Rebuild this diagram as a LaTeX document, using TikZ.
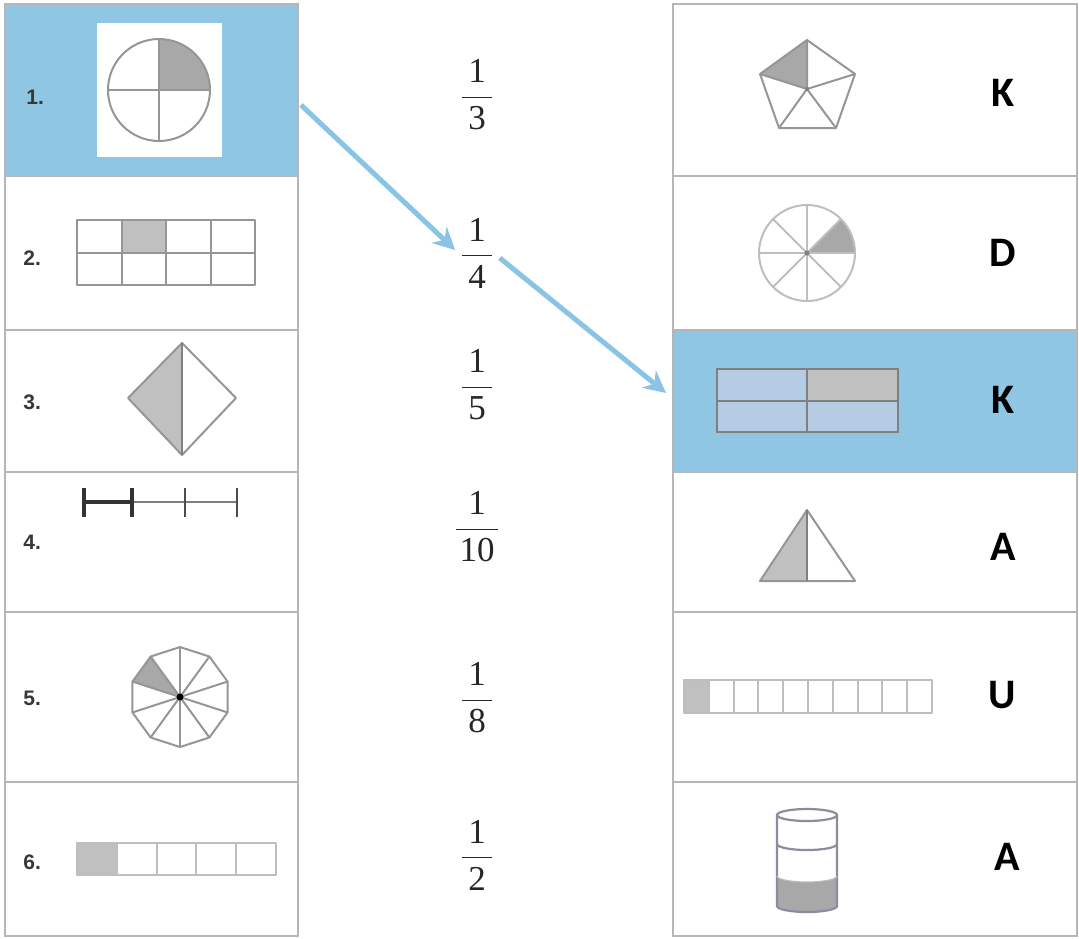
\documentclass[tikz,border=0pt]{standalone}
\usepackage{fontspec}
\newfontfamily\labfont{Liberation Sans}
\newfontfamily\letfont{Carlito}
\newfontfamily\fracfont{Liberation Serif}
\usetikzlibrary{arrows.meta,fit,calc}
\definecolor{hlblue}{RGB}{142,198,228}
\definecolor{arrowblue}{RGB}{137,196,230}
\definecolor{cellgray}{RGB}{182,182,182}
\definecolor{shpgray}{RGB}{150,150,150}
\definecolor{lightshp}{RGB}{190,190,190}
\definecolor{shadeA}{RGB}{168,168,168}
\definecolor{shadeB}{RGB}{192,192,192}
\definecolor{gridblue}{RGB}{181,204,229}
\definecolor{cylgray}{RGB}{140,140,160}
\definecolor{labgray}{RGB}{55,55,55}
\newcommand{\myfrac}[3]{$\displaystyle\frac{\makebox[#3]{\fracfont #1}}{\makebox[#3]{\fracfont #2}}$}
\begin{document}
\begin{tikzpicture}[x=0.5pt,y=-0.5pt,
  cell/.style={draw=cellgray,line width=1pt,inner sep=0pt},
  shp/.style={draw=shpgray,line width=1pt,line join=round},
  num/.style={font=\labfont\bfseries\fontsize{10.5}{12}\selectfont,text=labgray,anchor=west,inner sep=0pt},
  letter/.style={font=\letfont\bfseries\fontsize{21}{24}\selectfont,inner sep=0pt},
  fracnode/.style={font=\fontsize{17.5}{21}\selectfont,inner sep=0pt,text=black!85},
  link/.style={draw=arrowblue,line width=2.5pt,-{Stealth[length=11pt,width=11pt]}}]
\useasboundingbox (0,0) rectangle (1079,938);
\fill[white] (0,0) rectangle (1079,938);

% left column cells
\node[cell,fill=hlblue,fit={(5,4)(298,176)}] (L1) {};
\node[cell,fit={(5,176)(298,330)}] (L2) {};
\node[cell,fit={(5,330)(298,472)}] (L3) {};
\node[cell,fit={(5,472)(298,612)}] (L4) {};
\node[cell,fit={(5,612)(298,782)}] (L5) {};
\node[cell,fit={(5,782)(298,936)}] (L6) {};
% right column cells
\node[cell,fit={(673,4)(1077,176)}] (R1) {};
\node[cell,fit={(673,176)(1077,330)}] (R2) {};
\node[cell,fill=hlblue,fit={(673,330)(1077,472)}] (R3) {};
\node[cell,fit={(673,472)(1077,612)}] (R4) {};
\node[cell,fit={(673,612)(1077,782)}] (R5) {};
\node[cell,fit={(673,782)(1077,936)}] (R6) {};

% left labels
\node[num] (n1) at (26,97) {1.};
\node[num] (n2) at (23,258) {2.};
\node[num] (n3) at (23,402) {3.};
\node[num] (n4) at (23,542) {4.};
\node[num] (n5) at (23,698) {5.};
\node[num] (n6) at (23,862) {6.};

% shape 1: circle quarters
\fill[white] (97,23) rectangle (222,157);
\fill[shadeA] (159,90) -- (210,90) arc[start angle=0,end angle=-90,radius=51] -- cycle;
\draw[shp] (159,90) circle[radius=51];
\draw[shp] (108,90) -- (210,90) (159,39) -- (159,141);

% shape 2: grid 4x2
\fill[shadeB] (121.5,220) rectangle (166,252.5);
\draw[shp] (77,220) rectangle (255,285);
\draw[shp] (121.5,220) -- (121.5,285) (166,220) -- (166,285) (210.5,220) -- (210.5,285) (77,252.5) -- (255,252.5);

% shape 3: diamond
\fill[shadeB] (182,343) -- (128,398) -- (182,455) -- cycle;
\draw[shp] (182,343) -- (236,398) -- (182,455) -- (128,398) -- cycle;
\draw[draw=gray,line width=1pt] (182,343) -- (182,455);

% shape 4: number line
\draw[draw=gray,line width=0.8pt] (132,502) -- (237,502);
\draw[draw=gray!60!black,line width=0.9pt] (185,488) -- (185,517) (237,488) -- (237,517);
\draw[draw=black!80,line width=2pt] (84,502) -- (132,502);
\draw[draw=black!80,line width=2pt] (84,488) -- (84,517) (132,488) -- (132,517);

% shape 5: decagon
\begin{scope}[shift={(180,697)}]
\fill[shadeA] (0,0) -- (-126:50) -- (-162:50) -- cycle;
\draw[shp] (-90:50) \foreach \k in {1,...,9}{ -- ({-90-36*\k}:50)} -- cycle;
\foreach \k in {0,...,9} \draw[shp] (0,0) -- ({-90-36*\k}:50);
\fill[black] (0,0) circle[radius=3.5];
\end{scope}

% shape 6: bar of 5
\fill[shadeB] (77,843) rectangle (116.8,875);
\draw[shp,draw=lightshp] (77,843) rectangle (276,875);
\foreach \i in {1,...,4} \draw[shp,draw=lightshp] ({77+39.8*\i},843) -- ({77+39.8*\i},875);

% right shape 1: pentagon
\fill[shadeA] (807,89) -- (807,40) -- (760,74) -- cycle;
\draw[shp] (807,40) -- (855,74) -- (836,128) -- (779,128) -- (760,74) -- cycle;
\draw[shp] (807,89) -- (807,40) (807,89) -- (855,74) (807,89) -- (836,128) (807,89) -- (779,128) (807,89) -- (760,74);
\fill[gray] (807,89) circle[radius=2];

% right shape 2: circle of 8
\begin{scope}[shift={(807,253)}]
\fill[shadeA] (0,0) -- (0:48) arc[start angle=0,end angle=-45,radius=48] -- cycle;
\draw[draw=lightshp,line width=1pt] (0,0) circle[radius=48];
\foreach \a in {0,45,...,315} \draw[draw=lightshp,line width=1pt] (0,0) -- (\a:48);
\fill[gray] (0,0) circle[radius=2.5];
\end{scope}

% right shape 3: grid 2x2
\fill[gridblue] (717,369) rectangle (898,432);
\fill[shadeB] (807,369) rectangle (898,401);
\draw[draw=gray,line width=1pt] (717,369) rectangle (898,432) (807,369) -- (807,432) (717,401) -- (898,401);

% right shape 4: triangle
\fill[shadeB] (807,510) -- (760,581) -- (807,581) -- cycle;
\draw[shp] (807,510) -- (855,581) -- (760,581) -- cycle;
\draw[draw=gray,line width=1pt] (807,510) -- (807,581);

% right shape 5: bar of 10
\fill[shadeB] (684,680) rectangle (708.8,713);
\draw[shp,draw=lightshp] (684,680) rectangle (932,713);
\foreach \i in {1,...,9} \draw[shp,draw=lightshp] ({684+24.8*\i},680) -- ({684+24.8*\i},713);

% right shape 6: cylinder
\fill[shadeA] (777,876) arc[start angle=180,end angle=0,x radius=30,y radius=6] -- (837,906) arc[start angle=0,end angle=180,x radius=30,y radius=6] -- cycle;
\draw[draw=cylgray,line width=1.1pt] (807,815) ellipse[x radius=30,y radius=6];
\draw[draw=cylgray,line width=1.1pt] (777,815) -- (777,906) arc[start angle=180,end angle=0,x radius=30,y radius=6] -- (837,815);
\draw[draw=cylgray,line width=1.1pt] (777,844) arc[start angle=180,end angle=0,x radius=30,y radius=6];
\draw[draw=cylgray!60,line width=0.6pt] (777,876) arc[start angle=180,end angle=0,x radius=30,y radius=6];

% letters
\node[letter] (k1) at (1003,93) {K};
\node[letter] (d2) at (1003,253) {D};
\node[letter] (k3) at (1003,400) {K};
\node[letter] (a4) at (1003,547) {A};
\node[letter] (u5) at (1002,695) {U};
\node[letter] (a6) at (1007,857) {A};

% fractions
\node[fracnode] (F3) at (477,95) {\myfrac{1}{3}{15pt}};
\node[fracnode] (F4) at (477,253) {\myfrac{1}{4}{15pt}};
\node[fracnode] (F5) at (477,385) {\myfrac{1}{5}{15pt}};
\node[fracnode] (F10) at (477,527) {\myfrac{1}{10}{21pt}};
\node[fracnode] (F8) at (477,698) {\myfrac{1}{8}{15pt}};
\node[fracnode] (F2) at (477,855) {\myfrac{1}{2}{15pt}};

% arrows
\draw[link] ($(L1.east)+(2,15)$) -- ($(F4.west)+(-4,-3)$);
\draw[link] ($(F4.east)+(5,5)$) -- ($(R3.west)+(-6,-8)$);
\end{tikzpicture}
\end{document}
